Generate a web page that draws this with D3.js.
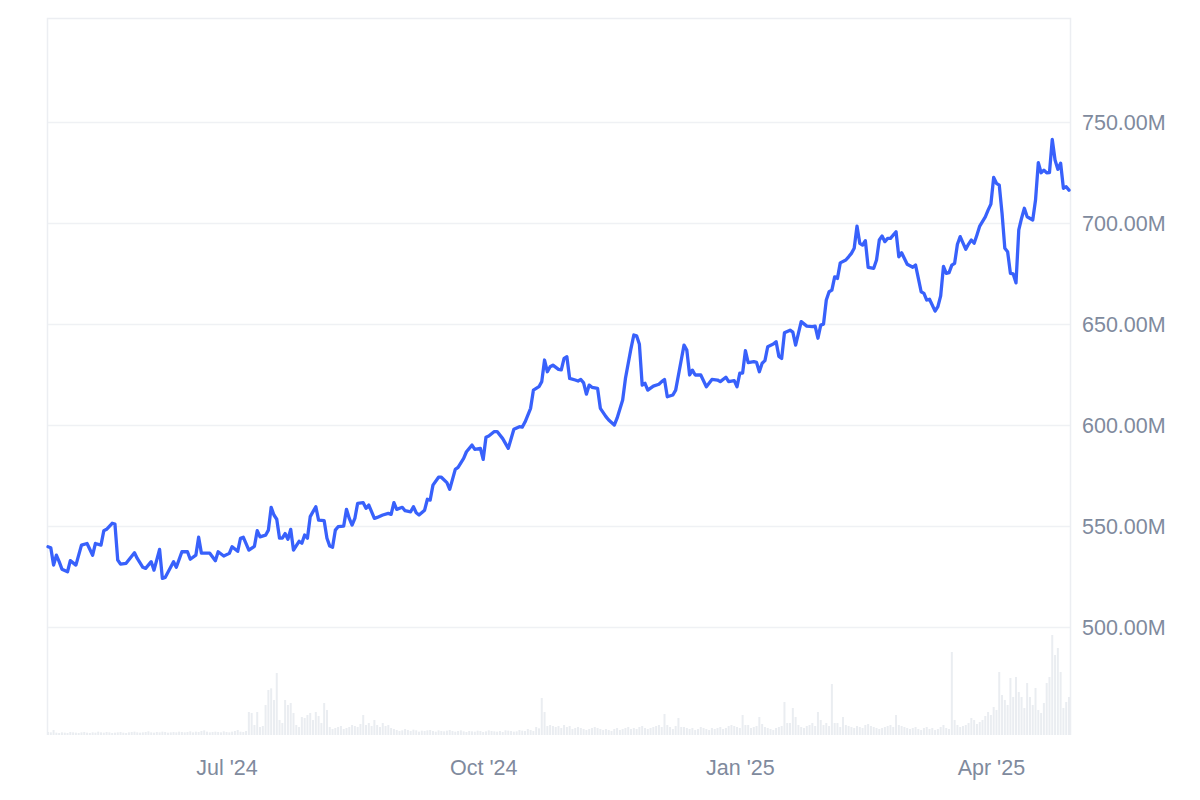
<!DOCTYPE html>
<html>
<head>
<meta charset="utf-8">
<script src="https://cdn.jsdelivr.net/npm/d3@7"></script>
<style>
  html, body { margin: 0; padding: 0; background: #ffffff; }
  svg { display: block; }
  text { font-family: "Liberation Sans", Arial, Helvetica, sans-serif; }
</style>
</head>
<body>
<svg id="chart" width="1200" height="800"></svg>
<script>
// ---------- DATA ----------
const dates = [
  "2024-04-28","2024-04-29","2024-04-30",
  "2024-05-01","2024-05-02","2024-05-03","2024-05-05","2024-05-06","2024-05-08","2024-05-10","2024-05-12","2024-05-14","2024-05-15","2024-05-17","2024-05-18","2024-05-19","2024-05-21","2024-05-22","2024-05-23","2024-05-24","2024-05-26","2024-05-29","2024-05-30",
  "2024-06-01","2024-06-02","2024-06-04","2024-06-05","2024-06-07","2024-06-08","2024-06-09","2024-06-12","2024-06-13","2024-06-15","2024-06-17","2024-06-18","2024-06-20","2024-06-21","2024-06-22","2024-06-25","2024-06-27","2024-06-28","2024-06-30",
  "2024-07-02","2024-07-03","2024-07-05","2024-07-06","2024-07-07","2024-07-09","2024-07-11","2024-07-12","2024-07-13","2024-07-15","2024-07-16","2024-07-17","2024-07-18","2024-07-19","2024-07-20","2024-07-21","2024-07-22","2024-07-23","2024-07-24","2024-07-25","2024-07-27","2024-07-28","2024-07-29","2024-07-30","2024-07-31",
  "2024-08-02","2024-08-03","2024-08-05","2024-08-06","2024-08-07","2024-08-08","2024-08-09","2024-08-10","2024-08-12","2024-08-13","2024-08-14","2024-08-15","2024-08-16","2024-08-17","2024-08-19","2024-08-20","2024-08-21","2024-08-23","2024-08-24","2024-08-26","2024-08-28","2024-08-29","2024-08-30","2024-08-31",
  "2024-09-02","2024-09-03","2024-09-05","2024-09-06","2024-09-07","2024-09-08","2024-09-10","2024-09-11","2024-09-12","2024-09-13","2024-09-15","2024-09-16","2024-09-18","2024-09-19","2024-09-21","2024-09-22","2024-09-24","2024-09-25","2024-09-27","2024-09-28","2024-09-30",
  "2024-10-01","2024-10-02","2024-10-03","2024-10-05","2024-10-06","2024-10-08","2024-10-10","2024-10-12","2024-10-14","2024-10-15","2024-10-16","2024-10-18","2024-10-19","2024-10-21","2024-10-22","2024-10-23","2024-10-24","2024-10-25","2024-10-26","2024-10-28","2024-10-29","2024-10-30","2024-10-31",
  "2024-11-01","2024-11-03","2024-11-04","2024-11-05","2024-11-06","2024-11-07","2024-11-08","2024-11-09","2024-11-11","2024-11-12","2024-11-14","2024-11-15","2024-11-17","2024-11-18","2024-11-20","2024-11-21","2024-11-23","2024-11-24","2024-11-25","2024-11-26","2024-11-27","2024-11-28","2024-11-29",
  "2024-12-01","2024-12-03","2024-12-04","2024-12-05","2024-12-06","2024-12-08","2024-12-09","2024-12-11","2024-12-12","2024-12-13","2024-12-14","2024-12-15","2024-12-16","2024-12-18","2024-12-20","2024-12-22","2024-12-24","2024-12-25","2024-12-27","2024-12-28","2024-12-30","2024-12-31",
  "2025-01-01","2025-01-02","2025-01-03","2025-01-04","2025-01-06","2025-01-07","2025-01-08","2025-01-09","2025-01-10","2025-01-11","2025-01-13","2025-01-14","2025-01-15","2025-01-16","2025-01-17","2025-01-19","2025-01-20","2025-01-21","2025-01-23","2025-01-25","2025-01-27","2025-01-28","2025-01-29","2025-01-30","2025-01-31",
  "2025-02-01","2025-02-02","2025-02-03","2025-02-04","2025-02-05","2025-02-06","2025-02-08","2025-02-09","2025-02-10","2025-02-11","2025-02-12","2025-02-13","2025-02-14","2025-02-15","2025-02-16","2025-02-18","2025-02-19","2025-02-20","2025-02-21","2025-02-22","2025-02-23","2025-02-24","2025-02-26","2025-02-27","2025-02-28",
  "2025-03-01","2025-03-02","2025-03-04","2025-03-05","2025-03-06","2025-03-07","2025-03-08","2025-03-09","2025-03-10","2025-03-12","2025-03-13","2025-03-14","2025-03-15","2025-03-16","2025-03-17","2025-03-18","2025-03-19","2025-03-20","2025-03-21","2025-03-23","2025-03-24","2025-03-25","2025-03-26","2025-03-27","2025-03-28","2025-03-30","2025-03-31",
  "2025-04-01","2025-04-02","2025-04-03","2025-04-04","2025-04-05","2025-04-06","2025-04-07","2025-04-08","2025-04-09","2025-04-10","2025-04-11","2025-04-12","2025-04-13","2025-04-14","2025-04-16","2025-04-17","2025-04-18","2025-04-19","2025-04-20","2025-04-21","2025-04-22","2025-04-23","2025-04-24","2025-04-25","2025-04-26","2025-04-27","2025-04-28","2025-04-29"
];

// values in millions
const values = [
  539.8,539.3,530.7,
  535.6,532.4,528.7,527.4,532.9,530.7,540.6,541.4,535.6,541.4,540.6,547.7,548.4,551.4,551.0,533.2,531.2,531.6,536.8,534.0,
  529.6,529.1,532.4,528.2,538.5,524.1,524.6,532.4,529.6,537.3,537.3,533.6,535.6,544.5,536.6,536.6,532.9,537.3,535.2,
  536.5,539.8,537.5,544.0,544.5,538.1,540.0,547.7,544.7,545.5,548.0,559.3,555.5,553.4,544.0,544.0,546.3,543.5,548.4,538.1,542.5,541.5,545.6,544.0,554.7,
  559.6,553.0,552.7,544.0,540.1,539.5,548.0,549.7,550.0,558.3,553.8,550.5,553.8,561.3,561.6,558.8,560.4,553.8,554.3,555.5,556.3,555.8,561.6,558.3,
  559.3,557.6,557.1,559.6,556.6,555.5,557.9,563.3,562.9,570.3,574.2,574.2,571.5,568.2,578.1,579.1,583.5,586.8,590.1,588.0,588.5,
  583.0,594.0,594.6,596.8,596.8,593.3,588.5,597.9,599.2,599.0,601.5,608.3,617.3,619.0,621.5,632.2,626.4,628.9,629.7,627.6,627.3,633.0,633.8,
  623.1,622.3,621.8,622.6,620.9,615.3,619.8,618.7,618.2,608.3,604.2,602.5,600.0,603.4,612.4,623.1,638.0,644.6,644.2,640.0,619.8,620.7,617.3,
  619.3,620.2,621.5,622.6,614.0,614.9,617.3,632.2,639.6,637.1,624.8,627.2,624.8,624.8,619.0,622.6,622.3,621.5,623.7,621.5,622.0,619.0,
  625.7,625.7,636.8,630.9,631.4,631.0,626.4,630.6,631.9,638.8,640.1,641.3,634.0,633.0,645.7,647.0,646.0,639.6,651.2,649.0,648.7,649.0,643.0,649.5,650.0,
  661.9,666.0,666.8,673.4,672.6,680.3,681.7,683.3,685.0,687.5,698.5,690.0,689.1,691.3,678.1,677.6,681.7,691.6,693.6,690.8,692.4,692.4,695.7,683.3,685.3,
  682.5,679.6,678.1,679.2,672.6,666.0,665.2,661.9,662.3,656.4,658.6,664.0,678.6,675.1,675.5,679.2,680.1,689.5,693.3,687.0,689.6,691.6,690.0,694.1,698.5,703.1,706.4,
  709.4,722.6,719.7,718.8,704.8,687.5,685.8,675.1,674.8,670.4,696.6,702.4,707.3,703.1,701.5,711.4,729.9,724.9,726.2,724.9,725.0,741.4,731.2,726.6,729.6,717.2,718.0,716.3
];

// daily volume (arbitrary millions), starting 2024-04-28, one value per day
const volumeStart = "2024-04-28";
const volumes = [
  9,8,15,7,6,8,7,6,9,8,
  7,6,8,9,7,6,8,7,10,8,
  7,9,8,6,7,8,9,7,6,8,
  9,10,8,7,8,9,11,8,7,9,
  8,10,9,7,8,9,8,10,9,8,
  9,11,8,10,9,12,14,10,8,9,
  10,9,8,11,9,8,10,12,15,10,
  9,12,69,66,30,69,24,27,90,135,
  140,105,186,45,36,105,90,96,66,30,
  24,54,51,60,66,45,69,57,36,96,
  75,24,18,21,24,27,18,21,24,30,
  27,24,33,60,30,36,27,45,30,24,
  36,27,30,21,18,15,12,14,18,15,
  12,16,14,10,13,12,14,15,12,10,
  14,12,11,13,15,12,10,12,14,11,
  9,12,11,10,13,12,9,11,14,12,
  11,10,12,9,14,13,12,10,11,15,
  13,12,18,15,12,24,20,111,69,27,
  30,27,24,27,21,30,24,27,18,21,
  24,21,18,15,18,21,24,21,18,15,
  18,15,12,18,21,15,18,21,24,18,
  21,18,24,27,21,18,21,24,27,30,
  24,63,30,24,18,27,51,24,24,21,
  18,21,15,18,24,21,18,15,21,18,
  21,24,18,21,27,30,27,24,21,60,
  30,30,21,24,27,54,33,24,21,18,
  15,21,24,27,99,36,36,81,54,30,
  24,21,27,30,36,27,69,45,30,36,
  27,153,36,36,24,54,30,27,24,21,
  27,24,21,30,33,27,24,21,18,21,
  24,27,30,24,60,30,27,24,21,18,
  21,24,18,15,21,24,18,21,15,18,
  24,30,21,18,249,45,30,24,27,30,
  36,51,45,33,39,45,57,69,60,84,
  75,189,120,105,90,171,114,174,129,114,
  81,156,114,90,141,75,66,96,156,174,
  300,240,261,189,81,99,114
];

const yTicks = [500, 550, 600, 650, 700, 750];
const xTickDates = ["2024-07-01", "2024-10-01", "2025-01-01", "2025-04-01"];
const xTickLabels = ["Jul '24", "Oct '24", "Jan '25", "Apr '25"];

// ---------- CHART ----------
const parse = d3.utcParse("%Y-%m-%d");
const series = dates.map((d, i) => ({ date: parse(d), value: values[i] }));
const vStart = parse(volumeStart);
const volSeries = volumes.map((v, i) => ({ date: d3.utcDay.offset(vStart, i), value: v }));

const plot = { left: 47, right: 1071, top: 18, bottom: 735 };

const svg = d3.select("#chart");

const x = d3.scaleUtc()
  .domain(d3.extent(series, d => d.date))
  .range([48, 1069]);

const y = d3.scaleLinear()
  .domain([446.6, 801.5])
  .range([plot.bottom, plot.top]);

const yVol = d3.scaleLinear()
  .domain([0, 300])
  .range([plot.bottom, plot.bottom - 100]);

// grid lines
svg.append("g")
  .selectAll("line")
  .data(yTicks)
  .join("line")
  .attr("x1", plot.left)
  .attr("x2", plot.right)
  .attr("y1", d => Math.round(y(d)) + 0.5)
  .attr("y2", d => Math.round(y(d)) + 0.5)
  .attr("stroke", "#eff1f4")
  .attr("stroke-width", 1.5);

// frame (left, top, right)
svg.append("path")
  .attr("d", `M${plot.left + 0.5},${plot.bottom} V${plot.top + 0.5} H${plot.right - 0.5} V${plot.bottom}`)
  .attr("fill", "none")
  .attr("stroke", "#eceef2")
  .attr("stroke-width", 1.5);

// volume bars
const dayW = x(d3.utcDay.offset(vStart, 1)) - x(vStart);
svg.append("g")
  .selectAll("rect")
  .data(volSeries)
  .join("rect")
  .attr("x", d => x(d.date) - dayW / 2 + 0.4)
  .attr("width", Math.max(1, dayW - 0.8))
  .attr("y", d => yVol(d.value))
  .attr("height", d => plot.bottom - yVol(d.value))
  .attr("fill", "#eaedf1");

// price line
const line = d3.line()
  .x(d => x(d.date))
  .y(d => y(d.value));

svg.append("path")
  .datum(series)
  .attr("d", line)
  .attr("fill", "none")
  .attr("stroke", "#3861fb")
  .attr("stroke-width", 3.3)
  .attr("stroke-linejoin", "round")
  .attr("stroke-linecap", "round");

// y axis labels (right)
const fmt = v => v.toFixed(2) + "M";
const yAxis = d3.axisRight(y).tickValues(yTicks).tickFormat(fmt).tickSize(0).tickPadding(0);
const gy = svg.append("g")
  .attr("transform", `translate(1082,0)`)
  .call(yAxis);
gy.select(".domain").remove();
gy.selectAll("text")
  .attr("fill", "#808a9d")
  .attr("font-size", "21.5px")
  .attr("font-family", "Liberation Sans, Arial, sans-serif")
  .attr("dy", "0.35em");

// x axis labels
const xAxis = d3.axisBottom(x)
  .tickValues(xTickDates.map(parse))
  .tickFormat((d, i) => xTickLabels[i])
  .tickSize(0)
  .tickPadding(0);
const gx = svg.append("g")
  .attr("transform", `translate(0,${plot.bottom})`)
  .call(xAxis);
gx.select(".domain").remove();
gx.selectAll("text")
  .attr("fill", "#808a9d")
  .attr("font-size", "21.5px")
  .attr("font-family", "Liberation Sans, Arial, sans-serif")
  .attr("y", 40)
  .attr("dy", "0");
</script>
</body>
</html>
